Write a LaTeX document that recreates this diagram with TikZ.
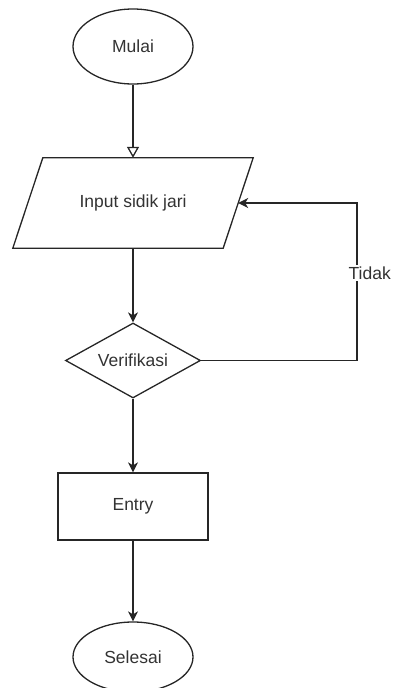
\documentclass[tikz,border=0pt]{standalone}
\usepackage{fontspec}
\setmainfont{Liberation Sans}
\usetikzlibrary{shapes.geometric,arrows.meta}
\definecolor{ink}{HTML}{262626}
\definecolor{txt}{HTML}{333333}
\begin{document}
\begin{tikzpicture}[x=1pt,y=-1pt,
  every node/.style={font=\fontsize{17.5}{20}\selectfont, text=txt},
  shape line/.style={draw=ink, line width=1.3pt},
  terminal/.style={shape line, ellipse, minimum width=120pt, minimum height=75pt, inner sep=0pt},
  iobox/.style={minimum width=210pt, minimum height=90pt, inner sep=0pt},
  decision/.style={shape line, diamond, aspect=1.8, minimum width=135pt, minimum height=75pt, inner sep=0pt},
  process/.style={shape line, rectangle, minimum width=150pt, minimum height=67pt, inner sep=0pt},
  flow/.style={draw=ink, line width=1.3pt, -{Stealth[length=10pt, width=10pt, inset=3pt]}},
  startflow/.style={draw=ink, line width=1.3pt, -{Triangle[open, length=11pt, width=12pt, line width=1.3pt]}},
  edgelabel/.style={fill=white, inner xsep=0pt, inner ysep=2pt}
]
\useasboundingbox (0,0) rectangle (392,688);

% shapes
\node[terminal] (mulai) at (133,46.5) {Mulai};
\node[iobox] (input) at (133,203) {Input sidik jari};
\draw[shape line, line join=miter]
  ([xshift=15pt]input.north west) -- ([xshift=15pt]input.north east)
  -- ([xshift=-15pt]input.south east) -- ([xshift=-15pt]input.south west) -- cycle;
\node[decision] (verif) at (133,360.5) {Verifikasi};
\node[process] (entry) at (133,506.5) {Entry};
\node[terminal, minimum height=70pt] (selesai) at (133,657) {Selesai};

\coordinate (loop) at (357,203);

% connectors
\draw[startflow] (mulai.south) -- (input.north);
\draw[flow] (input.south) -- (verif.north);
\draw[flow] (verif.south) -- (entry.north);
\draw[flow] (entry.south) -- (selesai.north);
\draw[flow] (verif.east) -| (loop) -- (input.east);
\node[edgelabel, anchor=east] (tidak) at (391,273) {Tidak};
\end{tikzpicture}
\end{document}
